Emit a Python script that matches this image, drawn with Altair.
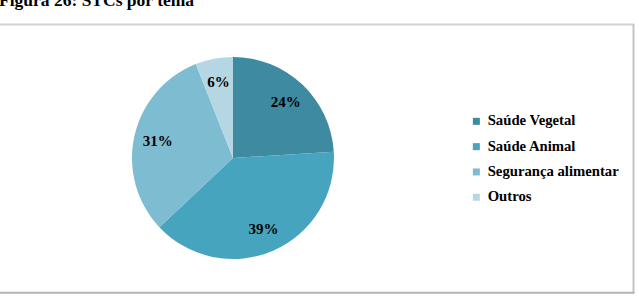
import altair as alt
import pandas as pd

categories = ["Saúde Vegetal", "Saúde Animal", "Segurança alimentar", "Outros"]
values = [24, 39, 31, 6]
labels = ["24%", "39%", "31%", "6%"]
colors = ["#3E8AA0", "#46A4BE", "#7EBCD1", "#B4D7E3"]
title_text = "Figura 26: STCs por tema"

df = pd.DataFrame({
    "cat": categories,
    "value": values,
    "label": labels,
    "idx": list(range(len(categories))),
})

FONT = "Liberation Serif"
CX, CY, R = 233, 158, 101

base = alt.Chart(df).encode(
    theta=alt.Theta("value:Q", stack=True),
    order=alt.Order("idx:Q"),
)

pie = base.mark_arc(radius=R, x=CX, y=CY).encode(
    color=alt.Color(
        "cat:N",
        scale=alt.Scale(domain=categories, range=colors),
        sort=categories,
        legend=alt.Legend(
            title=None,
            orient="none",
            legendX=469,
            legendY=114,
            symbolType="square",
            symbolSize=49,
            symbolStrokeWidth=0,
            labelFont=FONT,
            labelFontSize=14.7,
            labelFontWeight="bold",
            labelColor="#000000",
            labelOffset=4,
            rowPadding=9.3,
            labelLimit=300,
        ),
    )
)

text = base.mark_text(
    radius=77, x=CX, y=CY, font=FONT, fontSize=15, fontWeight="bold",
    color="#000000", align="center", baseline="middle",
).encode(text="label:N")

title = alt.Chart(pd.DataFrame({"t": [title_text]})).mark_text(
    font=FONT, fontSize=17.5, fontWeight="bold", align="left",
    baseline="alphabetic", color="#000000",
).encode(text="t:N", x=alt.value(-1), y=alt.value(6))

frame = alt.Chart(pd.DataFrame({"k": [0]}))
top_line = frame.mark_rule(color="#d2d2d2", strokeWidth=2).encode(
    x=alt.value(0), x2=alt.value(634), y=alt.value(24.5))
right_line = frame.mark_rule(color="#c4c4c4", strokeWidth=2).encode(
    x=alt.value(633.5), y=alt.value(24), y2=alt.value(293.5))
bottom_line = frame.mark_rule(color="#b4b4b4", strokeWidth=2).encode(
    x=alt.value(0), x2=alt.value(634.5), y=alt.value(292.8))

chart = alt.layer(pie, text, title, top_line, right_line, bottom_line).properties(
    width=639, height=298, padding=0, autosize=alt.AutoSizeParams(type="none"),
).configure_view(stroke=None)

chart.save("out.html", embed_options={"renderer": "svg", "actions": False})
